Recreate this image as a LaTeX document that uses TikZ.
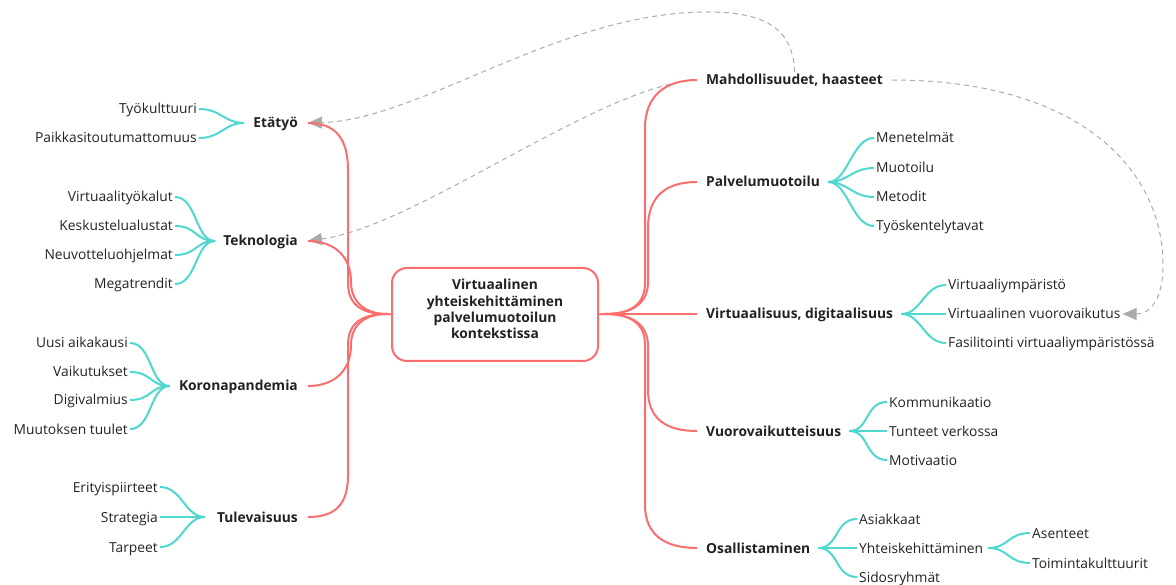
\documentclass[tikz,border=0pt]{standalone}
\usepackage{fontspec}
\setmainfont{Open Sans}
\usetikzlibrary{arrows.meta}
\definecolor{mred}{HTML}{FA6E6E}
\definecolor{mteal}{HTML}{4FD8CF}
\definecolor{mgray}{HTML}{ABABAB}
\definecolor{mtext}{HTML}{222222}
\begin{document}
\begin{tikzpicture}[x=1pt,y=-1pt,
  font=\fontsize{13.8}{17}\selectfont, text=mtext,
  main/.style={font=\fontsize{13.8}{17}\selectfont\bfseries, inner xsep=10pt, inner ysep=0pt, text height=13pt, text depth=3pt},
  leaf/.style={inner xsep=2pt, inner ysep=0pt, text height=13pt, text depth=3pt},
  redl/.style={draw=mred, line width=2pt},
  teall/.style={draw=mteal, line width=2pt},
  dashl/.style={draw=mgray, line width=1pt, dash pattern=on 5pt off 4pt, -{Triangle[length=14pt,width=12pt,fill=mgray]}},
]
\useasboundingbox (0,0) rectangle (1176,585);

% root
\node[draw=mred, line width=2pt, rounded corners=15pt, minimum width=206pt, minimum height=93pt,
      align=center, inner sep=0pt, text height=53.4pt, text depth=5pt,
      font=\fontsize{13.8}{16.3}\selectfont\bfseries] (root) at (495,314.5)
  {Virtuaalinen\\yhteiskehittäminen\\palvelumuotoilun\\kontekstissa};
\coordinate (lb) at (387,314);
\coordinate (rb) at (605,314);

% main nodes left
\node[main, anchor=east] (etatyo) at (308,123) {Etätyö};
\node[main, anchor=east] (tekno) at (308,241) {Teknologia};
\node[main, anchor=east] (korona) at (308,386) {Koronapandemia};
\node[main, anchor=east] (tule) at (308,517) {Tulevaisuus};

% main nodes right
\node[main, anchor=west, inner xsep=9pt] (mahd) at (697,80) {Mahdollisuudet, haasteet};
\node[main, anchor=west, inner xsep=9pt] (palv) at (697,182) {Palvelumuotoilu};
\node[main, anchor=west, inner xsep=9pt] (virt) at (697,314) {Virtuaalisuus, digitaalisuus};
\node[main, anchor=west, inner xsep=9pt] (vuoro) at (697,431) {Vuorovaikutteisuus};
\node[main, anchor=west, inner xsep=9pt] (osal) at (697,548) {Osallistaminen};

% leaves left
\node[leaf, anchor=east] (e1) at (199,109) {Työkulttuuri};
\node[leaf, anchor=east] (e2) at (199,138) {Paikkasitoutumattomuus};
\node[leaf, anchor=east] (t1) at (175,197) {Virtuaalityökalut};
\node[leaf, anchor=east] (t2) at (175,226) {Keskustelualustat};
\node[leaf, anchor=east] (t3) at (175,255) {Neuvotteluohjelmat};
\node[leaf, anchor=east] (t4) at (175,284) {Megatrendit};
\node[leaf, anchor=east] (k1) at (130,343) {Uusi aikakausi};
\node[leaf, anchor=east] (k2) at (130,372) {Vaikutukset};
\node[leaf, anchor=east] (k3) at (130,400) {Digivalmius};
\node[leaf, anchor=east] (k4) at (130,429) {Muutoksen tuulet};
\node[leaf, anchor=east] (u1) at (160,487) {Erityispiirteet};
\node[leaf, anchor=east] (u2) at (160,517) {Strategia};
\node[leaf, anchor=east] (u3) at (160,547) {Tarpeet};

% leaves right
\node[leaf, anchor=west] (p1) at (874,138) {Menetelmät};
\node[leaf, anchor=west] (p2) at (874,168) {Muotoilu};
\node[leaf, anchor=west] (p3) at (874,197) {Metodit};
\node[leaf, anchor=west] (p4) at (874,226) {Työskentelytavat};
\node[leaf, anchor=west] (v1) at (946,285) {Virtuaaliympäristö};
\node[leaf, anchor=west] (v2) at (946,314) {Virtuaalinen vuorovaikutus};
\node[leaf, anchor=west] (v3) at (946,343) {Fasilitointi virtuaaliympäristössä};
\node[leaf, anchor=west] (w1) at (887,402) {Kommunikaatio};
\node[leaf, anchor=west] (w2) at (887,431) {Tunteet verkossa};
\node[leaf, anchor=west] (w3) at (887,460) {Motivaatio};
\node[leaf, anchor=west] (o1) at (857,519) {Asiakkaat};
\node[leaf, anchor=west] (o2) at (857,548) {Yhteiskehittäminen};
\node[leaf, anchor=west] (o3) at (857,577) {Sidosryhmät};
\node[leaf, anchor=west] (y1) at (1030,533) {Asenteet};
\node[leaf, anchor=west] (y2) at (1030,563) {Toimintakulttuurit};

% dashed relations
\draw[dashl] (mahd.west) .. controls (600,85) and (420,225) .. (tekno.east);
\draw[dashl] (mahd.north) .. controls (793,25) and (760,12) .. (707,12) .. controls (560,12) and (420,120) .. (etatyo.east);
\draw[dashl] (mahd.east) .. controls (1080,80) and (1163,170) .. (1163,265) .. controls (1163,300) and (1150,314) .. (v2.east);

% red branches left
\draw[redl] (root.west) -- (lb);
\draw[redl] (lb) .. controls (362,314) and (348,305) .. (348,283) -- (348,170) .. controls (348,138) and (335,123) .. (etatyo.east);
\draw[redl] (lb) .. controls (365,314) and (351,302) .. (351,282) .. controls (351,257) and (335,241) .. (tekno.east);
\draw[redl] (lb) .. controls (365,314) and (351,325) .. (351,345) .. controls (351,370) and (335,386) .. (korona.east);
\draw[redl] (lb) .. controls (362,314) and (348,323) .. (348,345) -- (348,475) .. controls (348,505) and (335,517) .. (tule.east);

% red branches right
\draw[redl] (root.east) -- (rb);
\draw[redl] (rb) .. controls (630,314) and (645,305) .. (645,283) -- (645,128) .. controls (645,96) and (665,80) .. (mahd.west);
\draw[redl] (rb) .. controls (633,314) and (648,303) .. (648,282) -- (648,228) .. controls (648,197) and (665,182) .. (palv.west);
\draw[redl] (rb) -- (virt.west);
\draw[redl] (rb) .. controls (633,314) and (648,325) .. (648,346) -- (648,390) .. controls (648,418) and (665,431) .. (vuoro.west);
\draw[redl] (rb) .. controls (630,314) and (645,323) .. (645,345) -- (645,505) .. controls (645,535) and (665,548) .. (osal.west);

% teal branches
\foreach \c in {e1,e2} \draw[teall] ([xshift=1pt]etatyo.west) .. controls +(-20,0) and +(22,0) .. (\c.east);
\foreach \c in {t1,t2,t3,t4} \draw[teall] ([xshift=2pt]tekno.west) .. controls +(-20,0) and +(22,0) .. (\c.east);
\foreach \c in {k1,k2,k3,k4} \draw[teall] ([xshift=1pt]korona.west) .. controls +(-20,0) and +(22,0) .. (\c.east);
\foreach \c in {u1,u2,u3} \draw[teall] ([xshift=-2pt]tule.west) .. controls +(-20,0) and +(22,0) .. (\c.east);
\foreach \c in {p1,p2,p3,p4} \draw[teall] ([xshift=-1pt]palv.east) .. controls +(20,0) and +(-22,0) .. (\c.west);
\foreach \c in {v1,v2,v3} \draw[teall] ([xshift=-1pt]virt.east) .. controls +(20,0) and +(-22,0) .. (\c.west);
\foreach \c in {w1,w2,w3} \draw[teall] ([xshift=-1pt]vuoro.east) .. controls +(20,0) and +(-22,0) .. (\c.west);
\foreach \c in {o1,o2,o3} \draw[teall] ([xshift=-1pt]osal.east) .. controls +(20,0) and +(-22,0) .. (\c.west);
\foreach \c in {y1,y2} \draw[teall] ([xshift=3pt]o2.east) .. controls +(20,0) and +(-22,0) .. (\c.west);
\end{tikzpicture}
\end{document}
